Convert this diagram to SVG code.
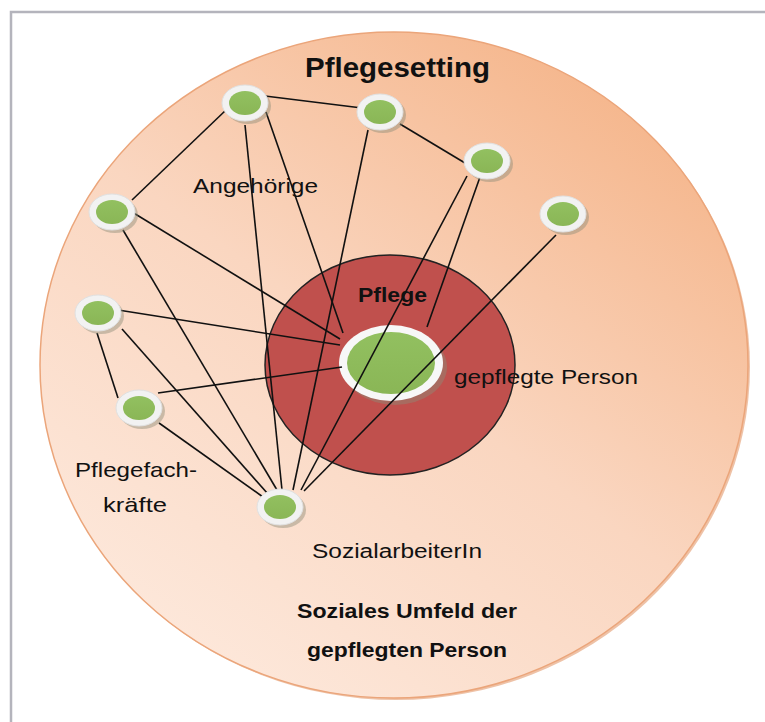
<svg xmlns="http://www.w3.org/2000/svg" width="765" height="722" viewBox="0 0 765 722">
<defs>
<linearGradient id="bg" x1="0.85" y1="0.1" x2="0.2" y2="0.95">
<stop offset="0" stop-color="#f5b68c"/>
<stop offset="0.5" stop-color="#fad6c0"/>
<stop offset="1" stop-color="#fde8db"/>
</linearGradient>
<linearGradient id="gr" x1="0" y1="0" x2="0" y2="1">
<stop offset="0" stop-color="#92c060"/>
<stop offset="1" stop-color="#8ab656"/>
</linearGradient>
</defs>
<style>
.t{font-family:"Liberation Sans",Arial,sans-serif;fill:#111;}
.b{font-weight:bold;}
.e line{stroke:#111;stroke-width:1.6;}
.sh{fill:#8c8c78;opacity:0.45;}
.ring{fill:#f2f2f2;stroke:#e0e0e0;stroke-width:1;}
.core{fill:url(#gr);}
</style>
<rect x="0" y="0" width="765" height="722" fill="#fff"/>
<path d="M11 722 V12 H765" fill="none" stroke="#b4b4bc" stroke-width="2.5"/>
<g id="setting">
<ellipse cx="396" cy="367" rx="354" ry="333" fill="#e39a6c" opacity="0.6"/>
<ellipse cx="394" cy="365" rx="354" ry="333" fill="url(#bg)" stroke="#eba57a" stroke-width="1.5"/>
</g>
<g id="pflege">
<ellipse cx="390" cy="365" rx="125" ry="110" fill="#c0504d" stroke="#222" stroke-width="1.5"/>
</g>
<g id="gepflegte-person">
<ellipse cx="395" cy="367" rx="52" ry="38" class="sh"/>
<ellipse cx="391" cy="363" rx="52" ry="38" fill="#f7f7f7"/>
<ellipse cx="391" cy="363" rx="44" ry="31" class="core"/>
</g>
<g class="e" id="connectors">
<line x1="265" y1="96" x2="370" y2="109"/>
<line x1="226" y1="110" x2="132" y2="200"/>
<line x1="245" y1="125" x2="282" y2="490"/>
<line x1="266" y1="112" x2="343" y2="333"/>
<line x1="400" y1="124" x2="470" y2="166"/>
<line x1="368" y1="130" x2="293" y2="490"/>
<line x1="467" y1="176" x2="301" y2="490"/>
<line x1="480" y1="177" x2="427" y2="327"/>
<line x1="556" y1="235" x2="304" y2="491"/>
<line x1="123" y1="230" x2="277" y2="490"/>
<line x1="132" y1="212" x2="340" y2="339"/>
<line x1="118" y1="310" x2="340" y2="345"/>
<line x1="122" y1="329" x2="268" y2="494"/>
<line x1="97" y1="333" x2="118" y2="398"/>
<line x1="158" y1="393" x2="342" y2="367"/>
<line x1="159" y1="423" x2="263" y2="497"/>
</g>
<g id="n1"><ellipse cx="248" cy="106" rx="23" ry="18" class="sh"/><ellipse cx="245" cy="103" rx="23" ry="18" class="ring"/><ellipse cx="245" cy="103" rx="16" ry="12" class="core"/></g>
<g id="n2"><ellipse cx="383" cy="115" rx="23" ry="18" class="sh"/><ellipse cx="380" cy="112" rx="23" ry="18" class="ring"/><ellipse cx="380" cy="112" rx="16" ry="12" class="core"/></g>
<g id="n3"><ellipse cx="490" cy="164" rx="23" ry="18" class="sh"/><ellipse cx="487" cy="161" rx="23" ry="18" class="ring"/><ellipse cx="487" cy="161" rx="16" ry="12" class="core"/></g>
<g id="n4"><ellipse cx="566" cy="217" rx="23" ry="18" class="sh"/><ellipse cx="563" cy="214" rx="23" ry="18" class="ring"/><ellipse cx="563" cy="214" rx="16" ry="12" class="core"/></g>
<g id="n5"><ellipse cx="115" cy="215" rx="23" ry="18" class="sh"/><ellipse cx="112" cy="212" rx="23" ry="18" class="ring"/><ellipse cx="112" cy="212" rx="16" ry="12" class="core"/></g>
<g id="n6"><ellipse cx="101" cy="316" rx="23" ry="18" class="sh"/><ellipse cx="98" cy="313" rx="23" ry="18" class="ring"/><ellipse cx="98" cy="313" rx="16" ry="12" class="core"/></g>
<g id="n7"><ellipse cx="142" cy="411" rx="23" ry="18" class="sh"/><ellipse cx="139" cy="408" rx="23" ry="18" class="ring"/><ellipse cx="139" cy="408" rx="16" ry="12" class="core"/></g>
<g id="n8"><ellipse cx="283" cy="510" rx="23" ry="18" class="sh"/><ellipse cx="280" cy="507" rx="23" ry="18" class="ring"/><ellipse cx="280" cy="507" rx="16" ry="12" class="core"/></g>
<g id="labels">
<text class="t b" x="305" y="77" font-size="28" textLength="185" lengthAdjust="spacingAndGlyphs">Pflegesetting</text>
<text class="t" x="193" y="193" font-size="21" textLength="125" lengthAdjust="spacingAndGlyphs">Angehörige</text>
<text class="t b" x="358" y="302" font-size="20" textLength="69" lengthAdjust="spacingAndGlyphs">Pflege</text>
<text class="t" x="454" y="384" font-size="21" textLength="184" lengthAdjust="spacingAndGlyphs">gepflegte Person</text>
<text class="t" x="75" y="477" font-size="21" textLength="122" lengthAdjust="spacingAndGlyphs">Pflegefach-</text>
<text class="t" x="103" y="512" font-size="21" textLength="64" lengthAdjust="spacingAndGlyphs">kräfte</text>
<text class="t" x="312" y="558" font-size="20" textLength="170" lengthAdjust="spacingAndGlyphs">SozialarbeiterIn</text>
<text class="t b" x="297" y="618" font-size="20" textLength="220" lengthAdjust="spacingAndGlyphs">Soziales Umfeld der</text>
<text class="t b" x="307" y="657" font-size="20" textLength="200" lengthAdjust="spacingAndGlyphs">gepflegten Person</text>
</g>
</svg>
